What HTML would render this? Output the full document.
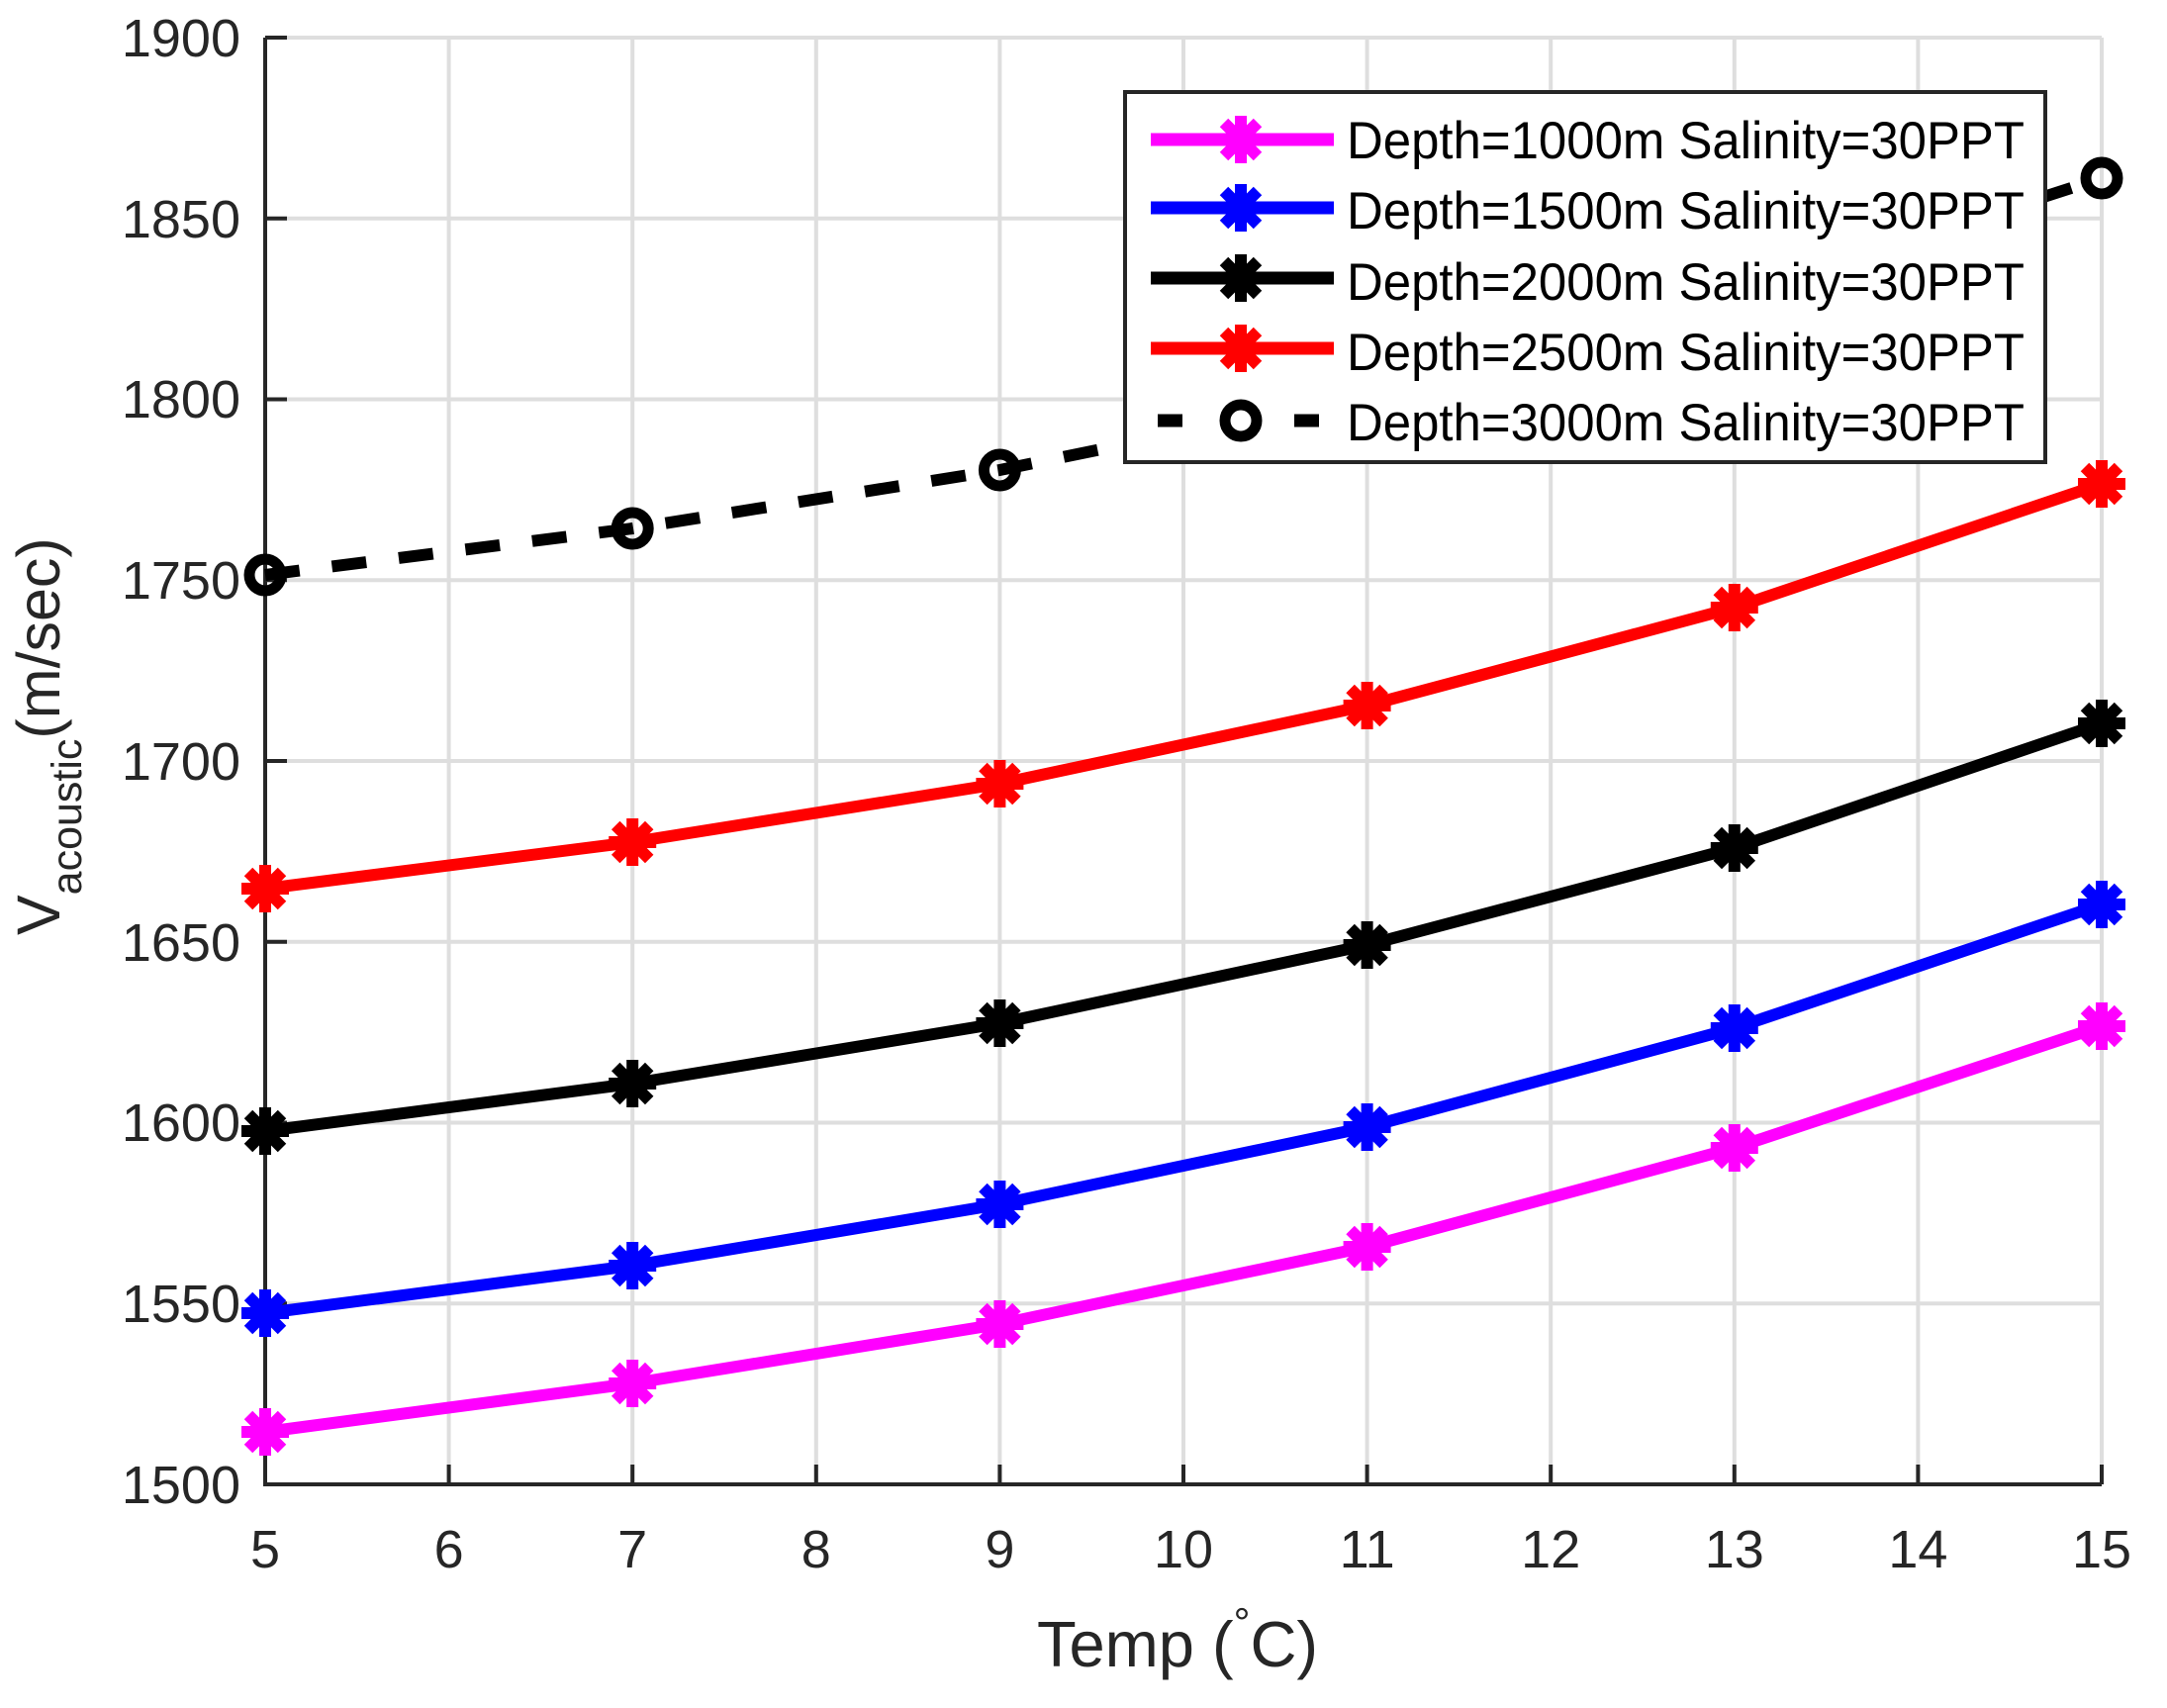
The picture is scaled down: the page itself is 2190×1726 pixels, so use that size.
<!DOCTYPE html>
<html><head><meta charset="utf-8"><style>html,body{margin:0;padding:0;background:#fff}svg{display:block}</style></head>
<body>
<svg width="2190" height="1726" viewBox="0 0 2190 1726" xmlns="http://www.w3.org/2000/svg" font-family="Liberation Sans, Arial, sans-serif">
<defs>
<g id="ast"><path d="M-24,0H24M0,-24V24M-17,-17L17,17M-17,17L17,-17" stroke-width="12" fill="none"/></g>
</defs>
<rect width="2190" height="1726" fill="#fff"/>
<g stroke="#dedede" stroke-width="4">
<line x1="453.6" y1="38" x2="453.6" y2="1500"/><line x1="639.2" y1="38" x2="639.2" y2="1500"/><line x1="824.8" y1="38" x2="824.8" y2="1500"/><line x1="1010.4" y1="38" x2="1010.4" y2="1500"/><line x1="1196" y1="38" x2="1196" y2="1500"/><line x1="1381.6" y1="38" x2="1381.6" y2="1500"/><line x1="1567.2" y1="38" x2="1567.2" y2="1500"/><line x1="1752.8" y1="38" x2="1752.8" y2="1500"/><line x1="1938.4" y1="38" x2="1938.4" y2="1500"/><line x1="2124" y1="38" x2="2124" y2="1500"/>
<line x1="268" y1="38" x2="2124" y2="38"/><line x1="268" y1="220.75" x2="2124" y2="220.75"/><line x1="268" y1="403.5" x2="2124" y2="403.5"/><line x1="268" y1="586.25" x2="2124" y2="586.25"/><line x1="268" y1="769" x2="2124" y2="769"/><line x1="268" y1="951.75" x2="2124" y2="951.75"/><line x1="268" y1="1134.5" x2="2124" y2="1134.5"/><line x1="268" y1="1317.25" x2="2124" y2="1317.25"/>
</g>
<g stroke="#262626" stroke-width="4" fill="none">
<path d="M268,38V1500H2124"/>
<path d="M268,38h22M268,220.75h22M268,403.5h22M268,586.25h22M268,769h22M268,951.75h22M268,1134.5h22M268,1317.25h22"/>
<path d="M453.6,1500v-20M639.2,1500v-20M824.8,1500v-20M1010.4,1500v-20M1196,1500v-20M1381.6,1500v-20M1567.2,1500v-20M1752.8,1500v-20M1938.4,1500v-20M2124,1500v-20"/>
</g>
<g fill="#262626" font-size="54" text-anchor="end">
<text x="243" y="57">1900</text><text x="243" y="240">1850</text><text x="243" y="422">1800</text><text x="243" y="605">1750</text><text x="243" y="788">1700</text><text x="243" y="971">1650</text><text x="243" y="1153">1600</text><text x="243" y="1336">1550</text><text x="243" y="1519">1500</text>
</g>
<g fill="#262626" font-size="54" text-anchor="middle">
<text x="268" y="1584">5</text><text x="453.6" y="1584">6</text><text x="639.2" y="1584">7</text><text x="824.8" y="1584">8</text><text x="1010.4" y="1584">9</text><text x="1196" y="1584">10</text><text x="1381.6" y="1584">11</text><text x="1567.2" y="1584">12</text><text x="1752.8" y="1584">13</text><text x="1938.4" y="1584">14</text><text x="2124" y="1584">15</text>
</g>
<text x="1048" y="1684" font-size="65" fill="#262626">Temp (<tspan font-size="42" dy="-30">°</tspan><tspan dy="30">C)</tspan></text>
<text transform="translate(60,945) rotate(-90)" font-size="61" fill="#262626">V<tspan font-size="43" dy="22">acoustic</tspan><tspan dy="-22">(m/sec)</tspan></text>
<g fill="none" stroke-linejoin="round">
<polyline stroke="#ff00ff" stroke-width="12" points="268,1447 639.2,1398 1010.4,1338 1381.6,1260 1752.8,1160 2124,1037"/>
<polyline stroke="#0000ff" stroke-width="12" points="268,1327 639.2,1279 1010.4,1217 1381.6,1139 1752.8,1039 2124,914"/>
<polyline stroke="#000" stroke-width="12" points="268,1143 639.2,1095 1010.4,1034 1381.6,955 1752.8,857 2124,731"/>
<polyline stroke="#ff0000" stroke-width="12" points="268,898 639.2,851 1010.4,792 1381.6,713 1752.8,614 2124,489"/>
<polyline stroke="#000" stroke-width="12" stroke-dasharray="35,33" stroke-linejoin="miter" points="268,581 639.2,534 1010.4,475 1381.6,399 1752.8,300 2124,180"/>
</g>
<g stroke="#ff00ff"><use href="#ast" x="268" y="1447"/><use href="#ast" x="639.2" y="1398"/><use href="#ast" x="1010.4" y="1338"/><use href="#ast" x="1381.6" y="1260"/><use href="#ast" x="1752.8" y="1160"/><use href="#ast" x="2124" y="1037"/></g>
<g stroke="#0000ff"><use href="#ast" x="268" y="1327"/><use href="#ast" x="639.2" y="1279"/><use href="#ast" x="1010.4" y="1217"/><use href="#ast" x="1381.6" y="1139"/><use href="#ast" x="1752.8" y="1039"/><use href="#ast" x="2124" y="914"/></g>
<g stroke="#000"><use href="#ast" x="268" y="1143"/><use href="#ast" x="639.2" y="1095"/><use href="#ast" x="1010.4" y="1034"/><use href="#ast" x="1381.6" y="955"/><use href="#ast" x="1752.8" y="857"/><use href="#ast" x="2124" y="731"/></g>
<g stroke="#ff0000"><use href="#ast" x="268" y="898"/><use href="#ast" x="639.2" y="851"/><use href="#ast" x="1010.4" y="792"/><use href="#ast" x="1381.6" y="713"/><use href="#ast" x="1752.8" y="614"/><use href="#ast" x="2124" y="489"/></g>
<g stroke="#000" stroke-width="11" fill="none"><circle cx="268" cy="581" r="16"/><circle cx="639.2" cy="534" r="16"/><circle cx="1010.4" cy="475" r="16"/><circle cx="1381.6" cy="399" r="16"/><circle cx="1752.8" cy="300" r="16"/><circle cx="2124" cy="180" r="16"/></g>
<rect x="1137" y="93" width="930" height="374" fill="#fff" stroke="#262626" stroke-width="4"/>
<g stroke-width="13">
<line x1="1163" y1="141" x2="1348" y2="141" stroke="#ff00ff"/>
<line x1="1163" y1="210" x2="1348" y2="210" stroke="#0000ff"/>
<line x1="1163" y1="281" x2="1348" y2="281" stroke="#000"/>
<line x1="1163" y1="352" x2="1348" y2="352" stroke="#ff0000"/>
<path d="M1170,425h25M1308,425h25" stroke="#000"/>
</g>
<use href="#ast" x="1254" y="141" stroke="#ff00ff"/>
<use href="#ast" x="1254" y="210" stroke="#0000ff"/>
<use href="#ast" x="1254" y="281" stroke="#000"/>
<use href="#ast" x="1254" y="352" stroke="#ff0000"/>
<circle cx="1254" cy="425" r="16" stroke="#000" stroke-width="11" fill="none"/>
<g font-size="53" fill="#000">
<text x="1361" y="160" textLength="685" lengthAdjust="spacingAndGlyphs">Depth=1000m Salinity=30PPT</text>
<text x="1361" y="231" textLength="685" lengthAdjust="spacingAndGlyphs">Depth=1500m Salinity=30PPT</text>
<text x="1361" y="303" textLength="685" lengthAdjust="spacingAndGlyphs">Depth=2000m Salinity=30PPT</text>
<text x="1361" y="374" textLength="685" lengthAdjust="spacingAndGlyphs">Depth=2500m Salinity=30PPT</text>
<text x="1361" y="445" textLength="685" lengthAdjust="spacingAndGlyphs">Depth=3000m Salinity=30PPT</text>
</g>
</svg>
</body></html>
